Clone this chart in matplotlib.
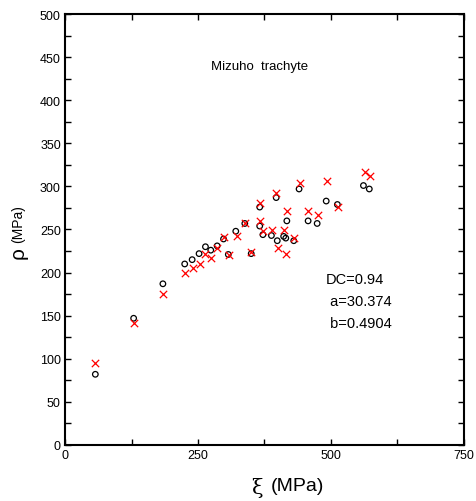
import numpy as np
import matplotlib
matplotlib.use("Agg")
import matplotlib.pyplot as plt
from matplotlib.ticker import MultipleLocator

plt.rcParams['font.family'] = ['Liberation Sans', 'DejaVu Sans']

# measured (open circles) and predicted (red crosses)
xi_meas = [57, 129, 184, 225, 239, 252, 264, 274, 286, 298, 307, 321, 338, 350,
           366, 366, 372, 388, 397, 399, 411, 415, 417, 430, 440, 457, 474, 491,
           512, 561, 572]
rho_meas = [82, 147, 187, 210, 215, 222, 230, 226, 231, 239, 221, 248, 257, 222,
            276, 254, 244, 243, 287, 237, 242, 240, 260, 237, 297, 260, 257, 283,
            279, 301, 297]
xi_pred = [57, 130, 184, 226, 240, 253, 264, 274, 286, 298, 308, 323, 338, 350,
           367, 367, 373, 389, 397, 400, 412, 416, 417, 431, 441, 457, 475, 492,
           513, 563, 573]
rho_pred = [95, 142, 175, 200, 205, 210, 222, 217, 228, 241, 220, 242, 257, 224,
            281, 260, 248, 249, 292, 228, 249, 221, 271, 240, 304, 271, 267, 306,
            276, 317, 312]

stats = ["DC=0.94", " a=30.374", " b=0.4904"]

fig = plt.figure(figsize=(4.77, 5.02), dpi=100)
ax = fig.add_axes([0.1363, 0.1116, 0.8364, 0.8585])

ax.scatter(xi_meas, rho_meas, s=16, facecolors='none', edgecolors='black',
           linewidths=0.9, zorder=3)
ax.scatter(xi_pred, rho_pred, s=28, marker='x', color='red', linewidths=0.9,
           zorder=4)

ax.set_xlim(0, 750)
ax.set_ylim(0, 500)
ax.xaxis.set_major_locator(MultipleLocator(250))
ax.xaxis.set_minor_locator(MultipleLocator(125))
ax.yaxis.set_major_locator(MultipleLocator(50))
ax.yaxis.set_minor_locator(MultipleLocator(25))
ax.tick_params(which='both', direction='in', top=True, right=True,
               labelsize=9, width=1, pad=3)
ax.tick_params(which='major', length=4)
ax.tick_params(which='minor', length=4)
for sp in ax.spines.values():
    sp.set_linewidth(1.5)

# axis labels placed by hand: greek letter bigger than the unit
fig.text(257 / 477, 1 - 488 / 502, "ξ", fontsize=15, family='DejaVu Serif',
         ha='center', va='center')
fig.text(297 / 477, 1 - 487 / 502, "(MPa)", fontsize=14, ha='center', va='center')
fig.text(18 / 477, 1 - 253 / 502, "ρ", fontsize=15, rotation=90,
         ha='center', va='center')
fig.text(18 / 477, 1 - 224 / 502, "(MPa)", fontsize=10, rotation=90,
         ha='center', va='center')

ax.text(365, 440, "Mizuho  trachyte", fontsize=9.5, ha='center', va='center')
for i, s in enumerate(stats):
    ax.text(490, 193 - i * 25.5, s, fontsize=10.5, ha='left', va='center')

fig.savefig("out.png", dpi=100)
